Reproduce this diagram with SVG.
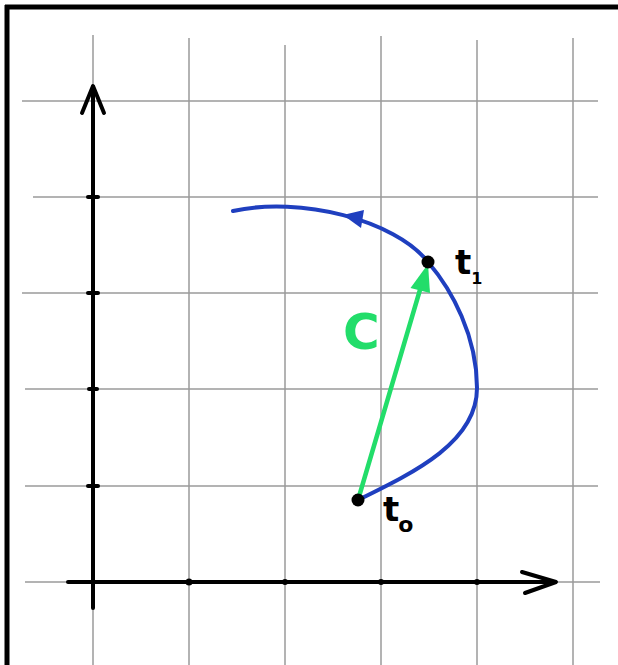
<svg xmlns="http://www.w3.org/2000/svg" width="618" height="665" viewBox="0 0 618 665">
<style>
.grid{stroke:#9a9a9a;stroke-width:1.5;fill:none}
.axis{stroke:#000;stroke-width:4;fill:none;stroke-linecap:round;stroke-linejoin:round}
.tick{stroke:#000;stroke-width:4;stroke-linecap:round}
.lbl{font-family:"DejaVu Sans","Liberation Sans",sans-serif;font-weight:bold;fill:#000}
</style>
<rect width="618" height="665" fill="#fff"/>
<g id="frame">
<line x1="5" y1="7" x2="618" y2="7" stroke="#000" stroke-width="5"/>
<line x1="7" y1="5" x2="7" y2="665" stroke="#000" stroke-width="5"/>
</g>
<g id="grid" class="grid">
<line x1="189" y1="38" x2="189" y2="665"/>
<line x1="285" y1="45" x2="285" y2="665"/>
<line x1="381" y1="36" x2="381" y2="665"/>
<line x1="477" y1="40" x2="477" y2="665"/>
<line x1="573" y1="38" x2="573" y2="665"/>
<line x1="93" y1="35" x2="93" y2="85"/>
<line x1="93" y1="608" x2="93" y2="665"/>
<line x1="22" y1="101" x2="598" y2="101"/>
<line x1="33" y1="197" x2="598" y2="197"/>
<line x1="22" y1="293" x2="598" y2="293"/>
<line x1="25" y1="389" x2="598" y2="389"/>
<line x1="25" y1="486" x2="598" y2="486"/>
<line x1="25" y1="582" x2="600" y2="582"/>
</g>
<g id="axes">
<line class="axis" x1="93" y1="608" x2="93" y2="87"/>
<polyline class="axis" points="82,113 93,86 104,113"/>
<line class="axis" x1="68" y1="582" x2="555" y2="582"/>
<polyline class="axis" points="522,572 556,582 525,593"/>
<line class="tick" x1="88" y1="197" x2="98" y2="197"/>
<line class="tick" x1="88" y1="293" x2="98" y2="293"/>
<line class="tick" x1="89" y1="389" x2="97" y2="389"/>
<line class="tick" x1="88" y1="486" x2="98" y2="486"/>
<circle cx="189" cy="582" r="3.5"/>
<circle cx="285" cy="582" r="3"/>
<circle cx="381" cy="582" r="3"/>
<circle cx="477" cy="582" r="3"/>
</g>
<g id="connectors">
<path id="curve" d="M358,500 C415,472 477,442 477,388 C477,336 452,290 428,262 C395,220 300,196 233,211" fill="none" stroke="#1f3fbf" stroke-width="4" stroke-linecap="round"/>
<polygon points="343,215 364,210 361,228" fill="#1f3fbf"/>
<line x1="358" y1="500" x2="422" y2="283" stroke="#22dd6a" stroke-width="4.5" stroke-linecap="round"/>
<polygon points="428,264 410.5,288 430,293" fill="#22dd6a"/>
</g>
<g id="t0">
<circle cx="358" cy="500" r="6.5" fill="#000"/>
<text class="lbl" x="383" y="521" font-size="34">t<tspan font-size="22" dy="11" dx="-1">o</tspan></text>
</g>
<g id="t1">
<circle cx="428" cy="262" r="6.5" fill="#000"/>
<text class="lbl" x="455" y="274" font-size="34">t<tspan font-size="16" dy="10" dx="0">1</tspan></text>
</g>
<g id="labelC">
<text x="343" y="349" font-family="DejaVu Sans, sans-serif" font-weight="bold" font-size="50" fill="#22dd6a">C</text>
</g>
</svg>
